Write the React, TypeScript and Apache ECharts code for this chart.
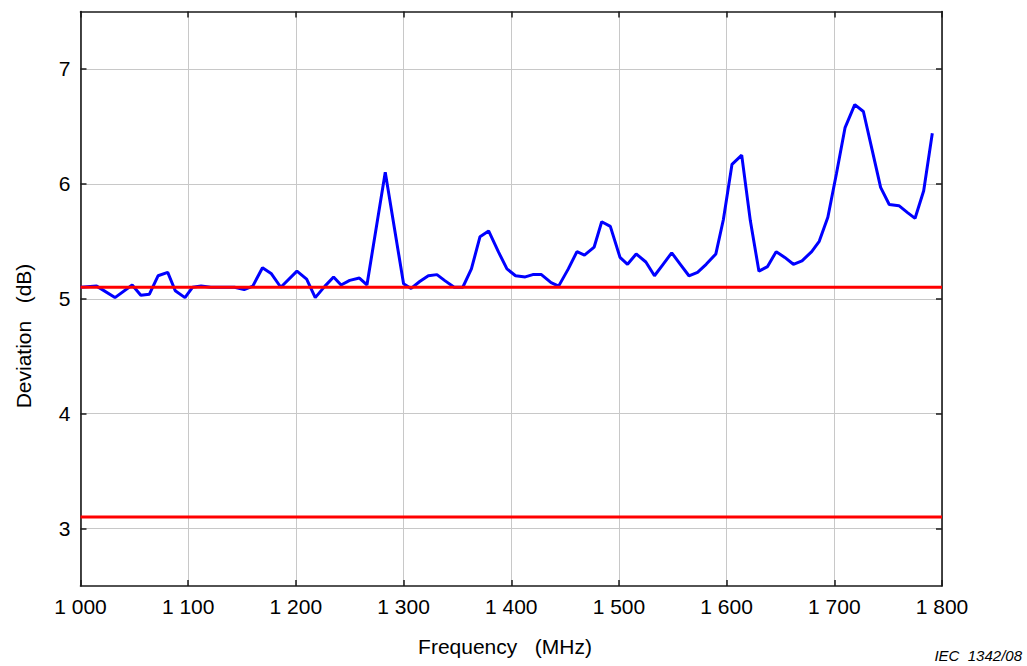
import React, { useEffect, useRef } from "react";
import * as echarts from "echarts";

const freqMHz = [
  1000, 1015, 1032, 1048, 1056, 1064, 1072, 1081, 1088, 1097, 1104, 1112, 1121, 1131, 1143, 1152,
  1160, 1169, 1177, 1186, 1201, 1210, 1218, 1227, 1235, 1242, 1250, 1259, 1266, 1283, 1300, 1307,
  1315, 1323, 1331, 1338, 1347, 1355, 1363, 1371, 1379, 1388, 1396, 1404, 1413, 1420, 1428, 1437,
  1444, 1453, 1461, 1468, 1477, 1484, 1492, 1501, 1508, 1516, 1525, 1533, 1541, 1549, 1557, 1565,
  1573, 1581, 1590, 1597, 1605, 1614, 1622, 1630, 1638, 1646, 1654, 1662, 1670, 1679, 1686, 1694,
  1702, 1710, 1719, 1727, 1735, 1743, 1751, 1760, 1768, 1775, 1783, 1791,
];

const deviationDb = [
  5.1, 5.11, 5.01, 5.12, 5.03, 5.04, 5.2, 5.23, 5.07, 5.01, 5.1, 5.11, 5.1, 5.1, 5.1, 5.08,
  5.11, 5.27, 5.22, 5.1, 5.24, 5.17, 5.01, 5.11, 5.19, 5.12, 5.16, 5.18, 5.12, 6.1, 5.13, 5.09,
  5.15, 5.2, 5.21, 5.16, 5.1, 5.1, 5.26, 5.54, 5.59, 5.41, 5.26, 5.2, 5.19, 5.21, 5.21, 5.14,
  5.11, 5.26, 5.41, 5.38, 5.45, 5.67, 5.63, 5.36, 5.3, 5.39, 5.32, 5.2, 5.3, 5.4, 5.3, 5.2,
  5.23, 5.3, 5.39, 5.69, 6.17, 6.25, 5.68, 5.24, 5.28, 5.41, 5.36, 5.3, 5.33, 5.41, 5.5, 5.71,
  6.09, 6.49, 6.69, 6.63, 6.3, 5.97, 5.82, 5.81, 5.75, 5.7, 5.94, 6.44,
];

const limitFreqRange = [1000, 1800];
const upperLimitDb = 5.1;
const lowerLimitDb = 3.1;

const xTicks = [1000, 1100, 1200, 1300, 1400, 1500, 1600, 1700, 1800];
const yTicks = [3, 4, 5, 6, 7];

const xTitle = "Frequency   (MHz)";
const yTitle = "Deviation   (dB)";
const figureRef = "IEC  1342/08";

export default function App() {
  const ref = useRef<HTMLDivElement>(null);

  useEffect(() => {
    if (!ref.current) return;
    const chart = echarts.init(ref.current, null, { renderer: "svg" });
    const font = "'Liberation Sans', Arial, sans-serif";
    const frameColor = "#1a1a1a";
    const gridColor = "#c8c8c8";
    const fmt = (v: number) => {
      const s = String(Math.round(v));
      return s.length > 3 ? s.slice(0, s.length - 3) + " " + s.slice(-3) : s;
    };
    const frameLine = { show: true, onZero: false, lineStyle: { color: frameColor, width: 1.6 } };
    const tick = { show: true, inside: true, length: 6, lineStyle: { color: frameColor, width: 1.5 } };

    chart.setOption({
      animation: false,
      backgroundColor: "#ffffff",
      grid: { left: 80.5, right: 85, top: 11.5, bottom: 80, containLabel: false },
      xAxis: [
        {
          type: "value",
          min: xTicks[0],
          max: xTicks[xTicks.length - 1],
          interval: 100,
          position: "bottom",
          axisLine: frameLine,
          axisTick: tick,
          axisLabel: { formatter: fmt, color: "#000", fontSize: 21, fontFamily: font, margin: 10 },
          splitLine: { show: true, lineStyle: { color: gridColor, width: 1 } },
        },
        {
          type: "value",
          min: xTicks[0],
          max: xTicks[xTicks.length - 1],
          interval: 100,
          position: "top",
          axisLine: frameLine,
          axisTick: tick,
          axisLabel: { show: false },
          splitLine: { show: false },
        },
      ],
      yAxis: [
        {
          type: "value",
          min: 2.5,
          max: 7.5,
          position: "left",
          axisLine: frameLine,
          axisTick: { ...tick, customValues: yTicks },
          axisLabel: { customValues: yTicks, color: "#000", fontSize: 21, fontFamily: font, margin: 10 },
          splitLine: { show: true, lineStyle: { color: gridColor, width: 1 } },
        },
        {
          type: "value",
          min: 2.5,
          max: 7.5,
          position: "right",
          axisLine: frameLine,
          axisTick: { ...tick, customValues: yTicks },
          axisLabel: { show: false, customValues: yTicks },
          splitLine: { show: false },
        },
      ],
      series: [
        {
          type: "line",
          name: "Deviation",
          data: freqMHz.map((f, i) => [f, deviationDb[i]]),
          showSymbol: false,
          symbol: "none",
          lineStyle: { color: "#0000ff", width: 3 },
          z: 2,
        },
        {
          type: "line",
          name: "Upper limit",
          data: limitFreqRange.map((f) => [f, upperLimitDb]),
          symbol: "none",
          lineStyle: { color: "#ff0000", width: 3 },
          z: 3,
        },
        {
          type: "line",
          name: "Lower limit",
          data: limitFreqRange.map((f) => [f, lowerLimitDb]),
          symbol: "none",
          lineStyle: { color: "#ff0000", width: 3 },
          z: 3,
        },
      ],
      graphic: [
        {
          type: "text",
          x: 505,
          y: 646,
          style: { text: xTitle, fill: "#000", font: `21px ${font}`, textAlign: "center", textVerticalAlign: "middle" },
        },
        {
          type: "text",
          x: 23,
          y: 336,
          rotation: Math.PI / 2,
          style: { text: yTitle, fill: "#000", font: `21px ${font}`, textAlign: "center", textVerticalAlign: "middle" },
        },
        {
          type: "text",
          x: 1022,
          y: 655,
          style: { text: figureRef, fill: "#000", font: `italic 15px ${font}`, textAlign: "right", textVerticalAlign: "middle" },
        },
      ],
    });

    return () => chart.dispose();
  }, []);

  return <div ref={ref} style={{ position: "absolute", left: 0, top: 0, width: 1027, height: 666 }} />;
}
